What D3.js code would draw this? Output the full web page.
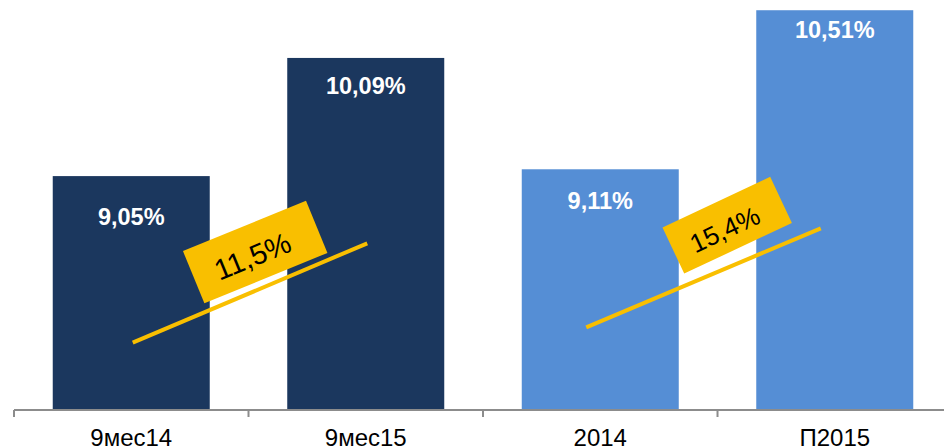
<!DOCTYPE html>
<html>
<head>
<meta charset="utf-8">
<script src="https://cdn.jsdelivr.net/npm/d3@7"></script>
<style>
  html, body { margin: 0; padding: 0; background: #ffffff; }
  svg { display: block; }
</style>
</head>
<body>
<svg id="chart" width="944" height="448"></svg>
<script>
// ---- data ----
const categories = ["9мес14", "9мес15", "2014", "П2015"];
const values = [9.05, 10.09, 9.11, 10.51];
const valueLabels = ["9,05%", "10,09%", "9,11%", "10,51%"];
const barGroups = [0, 0, 1, 1];
const growthLabels = ["11,5%", "15,4%"];
const growthPairs = [[0, 1], [2, 3]];

// ---- layout / style ----
const W = 944, H = 448;
const baseY = 409;
const colors = ["#1B375E", "#558ED5"];
const yellow = "#F9BF00";
const labelDy = [49, 36, 40, 28];
const annot = [
  { x0: 1.5, y0: 342.7, x1: 1.5, y1: 243.3, cx: 255.2, cy: 252, w: 133, h: 56.5, angle: -22.3, fs: 29 },
  { x0: -14, y0: 327.3, x1: -14, y1: 228.3, cx: 727.2, cy: 225.2, w: 119, h: 51, angle: -25.2, fs: 26 }
];

const svg = d3.select("#chart");

const x = d3.scaleBand()
  .domain(categories)
  .range([14, 952])
  .paddingInner(0.3305)
  .paddingOuter(0.1652);

const y = d3.scaleLinear().domain([7, 10.6]).range([baseY, 0]);

// bars
svg.append("g").selectAll("rect")
  .data(categories)
  .join("rect")
  .attr("x", d => x(d))
  .attr("y", (d, i) => y(values[i]))
  .attr("width", x.bandwidth())
  .attr("height", (d, i) => baseY - y(values[i]))
  .attr("fill", (d, i) => colors[barGroups[i]]);

// value labels
svg.append("g").selectAll("text")
  .data(categories)
  .join("text")
  .attr("x", d => x(d) + x.bandwidth() / 2)
  .attr("y", (d, i) => y(values[i]) + labelDy[i])
  .attr("text-anchor", "middle")
  .attr("fill", "#ffffff")
  .attr("font-family", "Liberation Sans, Arial, sans-serif")
  .attr("font-weight", "bold")
  .attr("font-size", 23.5)
  .text((d, i) => valueLabels[i]);

// x axis
const step = x.step();
const axisG = svg.append("g").attr("transform", `translate(0,${baseY + 1})`);
axisG.append("line")
  .attr("x1", 14).attr("x2", W)
  .attr("y1", 0).attr("y2", 0)
  .attr("stroke", "#8C8C8C").attr("stroke-width", 2);
const tickXs = d3.range(categories.length + 1).map(i => 14 + i * step);
axisG.selectAll("line.tick")
  .data(tickXs)
  .join("line")
  .attr("class", "tick")
  .attr("x1", d => d).attr("x2", d => d)
  .attr("y1", 0).attr("y2", 7)
  .attr("stroke", "#8C8C8C").attr("stroke-width", 2);

svg.append("g").selectAll("text")
  .data(categories)
  .join("text")
  .attr("x", d => x(d) + x.bandwidth() / 2)
  .attr("y", 446)
  .attr("text-anchor", "middle")
  .attr("fill", "#000000")
  .attr("font-family", "Liberation Sans, Arial, sans-serif")
  .attr("font-size", 24)
  .text(d => d);

// growth annotations
growthPairs.forEach((pair, k) => {
  const a = annot[k];
  const cxA = x(categories[pair[0]]) + x.bandwidth() / 2;
  const cxB = x(categories[pair[1]]) + x.bandwidth() / 2;
  svg.append("line")
    .attr("x1", cxA + a.x0).attr("y1", a.y0)
    .attr("x2", cxB + a.x1).attr("y2", a.y1)
    .attr("stroke", yellow).attr("stroke-width", 4);
  const g = svg.append("g")
    .attr("transform", `translate(${a.cx},${a.cy}) rotate(${a.angle})`);
  g.append("rect")
    .attr("x", -a.w / 2).attr("y", -a.h / 2)
    .attr("width", a.w).attr("height", a.h)
    .attr("fill", yellow);
  g.append("text")
    .attr("x", -4).attr("y", 3)
    .attr("text-anchor", "middle")
    .attr("dominant-baseline", "central")
    .attr("fill", "#000000")
    .attr("font-family", "Liberation Sans, Arial, sans-serif")
    .attr("font-size", a.fs)
    .text(growthLabels[k]);
});
</script>
</body>
</html>
